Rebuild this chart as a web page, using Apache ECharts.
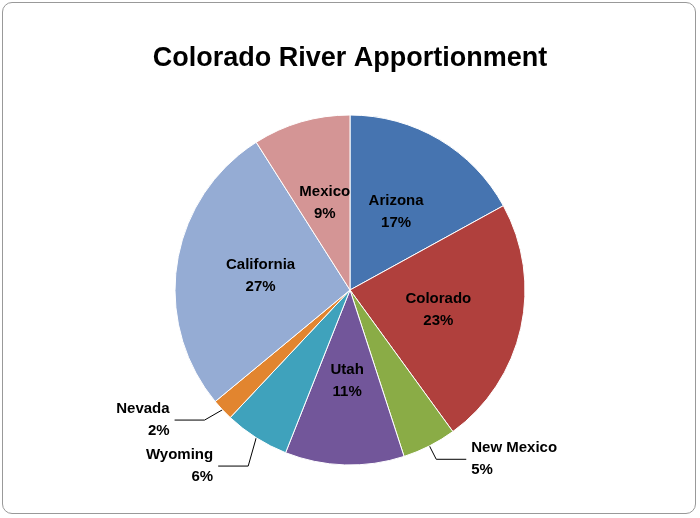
<!DOCTYPE html>
<html><head><meta charset="utf-8">
<script src="https://cdn.jsdelivr.net/npm/echarts@6/dist/echarts.min.js"></script>
<style>
html,body{margin:0;padding:0;background:#fff;}
#frame{position:absolute;left:2px;top:2px;width:694px;height:512px;border:1px solid #999;border-radius:10px;box-sizing:border-box;}
#c{width:700px;height:518px;}
</style></head><body>
<div id="frame"></div>
<div id="c"></div>
<script>
const categories = ["Arizona","Colorado","New Mexico","Utah","Wyoming","Nevada","California","Mexico"];
const values = [17,23,5,11,6,2,27,9];
const colors = ["#4674b0","#b0403d","#8aac46","#72569a","#3fa2bc","#e2852f","#95acd4","#d49595"];
const outside = ["New Mexico","Wyoming","Nevada"];
const chart = echarts.init(document.getElementById('c'));
chart.setOption({
  animation:false,
  title:{text:"Colorado River Apportionment",left:"center",top:40,
    textStyle:{fontFamily:"Liberation Sans",fontSize:27,fontWeight:"bold",color:"#000"}},
  series:[{
    type:"pie",center:[350,290],radius:[0,175],startAngle:90,clockwise:true,
    itemStyle:{borderColor:"#fff",borderWidth:1},
    label:{formatter:"{b}\n{d}%",fontFamily:"Liberation Sans",fontSize:15,fontWeight:"bold",color:"#000",lineHeight:22},
    labelLine:{lineStyle:{color:"#000"}},
    data:categories.map((n,i)=>({name:n,value:values[i],itemStyle:{color:colors[i]},
      label:{position: outside.includes(n)?"outside":"inner"},
      labelLine:{show: outside.includes(n)}}))
  }]
});
</script></body></html>
